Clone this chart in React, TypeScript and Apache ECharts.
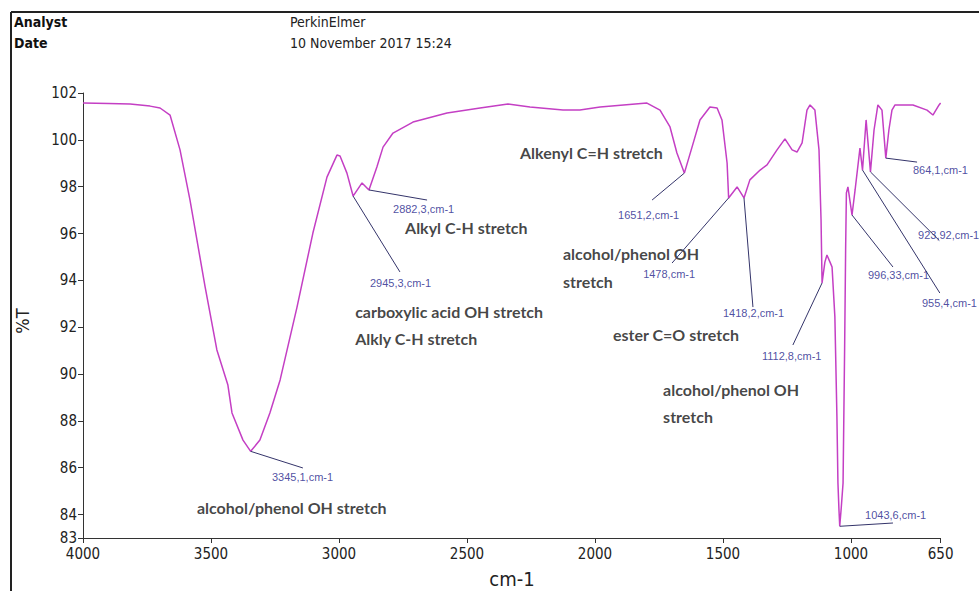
import React, { useEffect, useRef } from "react";
import * as echarts from "echarts";

// Spectrum trace (wavenumber cm-1, %T)
const wavenumbers = [
  4000, 3900, 3816, 3738, 3699, 3660, 3621, 3582, 3523, 3477, 3434, 3418, 3375, 3345, 3309, 3270, 3230,
  3164, 3102, 3047, 3008, 2996, 2969, 2945, 2910, 2883, 2852, 2828, 2789, 2711, 2578, 2449, 2340, 2254,
  2125, 2059, 1980, 1797, 1746, 1707, 1680, 1651, 1621, 1590, 1551, 1523, 1504, 1484, 1478, 1445, 1418,
  1395, 1355, 1328, 1289, 1258, 1230, 1211, 1191, 1172, 1160, 1141, 1125, 1117, 1113, 1102, 1094, 1082,
  1074, 1063, 1055, 1051, 1047, 1044, 1038, 1031, 1025, 1021, 1018, 1012, 996, 984, 965, 955, 941, 924,
  910, 895, 879, 864, 852, 840, 828, 758, 703, 680, 656, 650,
];
const transmittance = [
  101.57, 101.55, 101.53, 101.44, 101.36, 101.06, 99.57, 97.43, 93.72, 91.03, 89.53, 88.34, 87.18, 86.7,
  87.18, 88.34, 89.75, 92.86, 96.02, 98.41, 99.35, 99.31, 98.58, 97.6, 98.16, 97.86, 98.84, 99.69, 100.29,
  100.76, 101.15, 101.36, 101.53, 101.4, 101.27, 101.27, 101.4, 101.57, 101.27, 100.55, 99.44, 98.58,
  99.69, 100.85, 101.4, 101.36, 100.85, 99.01, 97.52, 97.99, 97.52, 98.29, 98.71, 98.93, 99.57, 100.04,
  99.57, 99.48, 99.87, 101.27, 101.49, 101.27, 99.57, 96.58, 93.89, 94.78, 95.08, 94.78, 94.57, 92.44,
  88.17, 85.35, 84.2, 83.5, 84.3, 85.35, 91.0, 95.3, 97.73, 97.99, 96.79, 97.86, 99.65, 98.71, 100.85,
  98.63, 100.42, 101.49, 101.27, 99.22, 100.42, 101.27, 101.49, 101.49, 101.27, 101.06, 101.49, 101.57,
];

const xTicks = [4000, 3500, 3000, 2500, 2000, 1500, 1000, 650];
const yTicks = [83, 84, 86, 88, 90, 92, 94, 96, 98, 100, 102];

// Peak picks
const peakTexts = [
  "3345,1,cm-1", "2945,3,cm-1", "2882,3,cm-1", "1651,2,cm-1", "1478,cm-1", "1418,2,cm-1",
  "1112,8,cm-1", "1043,6,cm-1", "864,1,cm-1", "923,92,cm-1", "996,33,cm-1", "955,4,cm-1",
];
const peakPoints = [
  [3345, 86.7], [2945, 97.6], [2883, 97.86], [1651, 98.58], [1478, 97.52], [1418, 97.52],
  [1113, 93.89], [1044, 83.5], [864, 99.22], [924, 98.63], [996, 96.79], [955, 98.71],
];
const peakLeaderEnds = [
  [3141, 85.99], [2762, 94.36], [2656, 97.43], [1777, 97.43], [1699, 94.74], [1383, 92.86],
  [1227, 91.24], [836, 83.64], [742, 99.05], [655, 95.7], [836, 94.57], [653, 93.46],
];
const peakTextAnchors = [
  [3262, 85.6], [2879, 93.89], [2789, 97.05], [1910, 96.79], [1812, 94.27], [1500, 92.61],
  [1348, 90.77], [945, 83.98], [758, 98.71], [738, 95.94], [934, 94.23], [723, 93.03],
];

// Band assignments
const noteTexts = [
  "alcohol/phenol OH stretch", "carboxylic acid OH stretch", "Alkly C-H stretch", "Alkyl C-H stretch",
  "Alkenyl C=H stretch", "alcohol/phenol OH", "stretch", "ester C=O stretch", "alcohol/phenol OH", "stretch",
];
const noteAnchors = [
  [3555, 84.32], [2937, 92.65], [2937, 91.5], [2742, 96.24], [2293, 99.44], [2125, 95.13], [2125, 93.97],
  [1930, 91.67], [1734, 89.32], [1734, 88.17],
];

const headerLeft = ["Analyst", "Date"];
const headerRight = ["PerkinElmer", "10 November 2017 15:24"];

const NARROW = "'Liberation Sans Narrow', 'Arial Narrow', 'DejaVu Sans Condensed', 'Liberation Sans', sans-serif";
const CAL = "Lato, 'Open Sans', 'Noto Sans', sans-serif";

export default function App() {
  const ref = useRef<HTMLDivElement>(null);
  useEffect(() => {
    if (!ref.current) return;
    const chart = echarts.init(ref.current, undefined, { renderer: "svg" });
    const spectrum = wavenumbers.map((w, i) => [w, transmittance[i]]);
    chart.setOption({
      animation: false,
      backgroundColor: "#ffffff",
      grid: { left: 83, top: 93, right: 38.4, bottom: 53, containLabel: false, outerBoundsMode: "none" },
      xAxis: {
        type: "value",
        inverse: true,
        min: 650,
        max: 4000,
        axisLine: { show: true, lineStyle: { color: "#333", width: 1 } },
        axisTick: { show: true, customValues: xTicks, length: 5, lineStyle: { color: "#333" } },
        axisLabel: {
          customValues: xTicks, color: "#222", fontFamily: NARROW, fontSize: 15, margin: 8,
          formatter: (v: number) => String(v),
        },
        splitLine: { show: false },
      },
      yAxis: {
        type: "value",
        min: 83,
        max: 102,
        axisLine: { show: true, lineStyle: { color: "#333", width: 1 } },
        axisTick: { show: true, customValues: yTicks, length: 5, lineStyle: { color: "#333" } },
        axisLabel: {
          customValues: yTicks, color: "#222", fontFamily: NARROW, fontSize: 15, margin: 6,
          formatter: (v: number) => String(v),
        },
        splitLine: { show: false },
      },
      graphic: [
        { type: "line", shape: { x1: 11, y1: 12, x2: 979, y2: 12 }, style: { stroke: "#222", lineWidth: 2 } },
        { type: "line", shape: { x1: 11, y1: 12, x2: 11, y2: 591 }, style: { stroke: "#222", lineWidth: 2 } },
        ...headerLeft.map((t, i) => ({
          type: "text", x: 14, y: 22 + i * 21,
          style: { text: t, fill: "#111", font: `bold 14px ${NARROW}`, textVerticalAlign: "middle" },
        })),
        ...headerRight.map((t, i) => ({
          type: "text", x: 290, y: 22 + i * 21,
          style: { text: t, fill: "#222", font: `14px ${NARROW}`, textVerticalAlign: "middle" },
        })),
        {
          type: "text", x: 22, y: 321, rotation: Math.PI / 2,
          style: { text: "%T", fill: "#222", font: `18px ${NARROW}`, textAlign: "center", textVerticalAlign: "middle" },
        },
        {
          type: "text", x: 512, y: 579,
          style: { text: "cm-1", fill: "#222", font: `20px ${NARROW}`, textAlign: "center", textVerticalAlign: "middle" },
        },
      ],
      series: [
        {
          type: "line",
          data: spectrum,
          showSymbol: false,
          symbol: "none",
          silent: true,
          lineStyle: { color: "#c43fc4", width: 1.5 },
          markLine: {
            silent: true,
            symbol: ["none", "none"],
            label: { show: false },
            lineStyle: { color: "#34346a", width: 1, type: "solid" },
            data: peakPoints.map((p, i) => [{ coord: p }, { coord: peakLeaderEnds[i] }]),
          },
        },
        {
          type: "scatter",
          silent: true,
          symbolSize: 0,
          data: peakTextAnchors.map((p, i) => ({ value: p, name: peakTexts[i] })),
          label: {
            show: true, position: "right", distance: 0, formatter: "{b}",
            color: "#22228a", fontSize: 11, fontFamily: "'Liberation Sans', Arial, sans-serif",
          },
        },
        {
          type: "scatter",
          silent: true,
          symbolSize: 0,
          data: noteAnchors.map((p, i) => ({ value: p, name: noteTexts[i] })),
          label: {
            show: true, position: "right", distance: 0, formatter: "{b}",
            color: "#141414", fontSize: 16, fontWeight: "bold", fontFamily: CAL,
          },
        },
      ],
    });
    return () => chart.dispose();
  }, []);
  return <div ref={ref} style={{ position: "fixed", left: 0, top: 0, width: 979, height: 591 }} />;
}
